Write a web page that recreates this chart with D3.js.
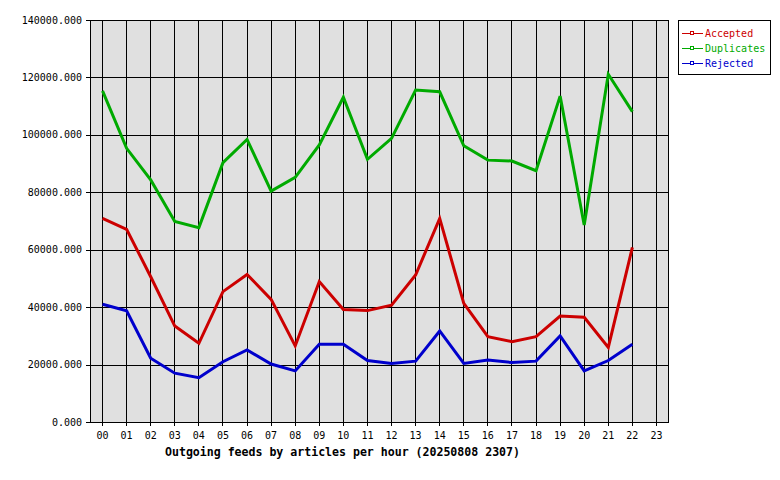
<!DOCTYPE html>
<html><head><meta charset="utf-8">
<script src="https://cdn.jsdelivr.net/npm/d3@7"></script>
<style>
html,body{margin:0;padding:0;background:#fff;}
text{font-family:"DejaVu Sans Mono",monospace;}
</style></head>
<body><div id="chart"></div>
<script>
const hours = ["00","01","02","03","04","05","06","07","08","09","10","11","12","13","14","15","16","17","18","19","20","21","22","23"];
const accepted   = [70900,67100,50600,33400,27400,45400,51400,42700,26500,48900,39200,38800,40700,51200,70900,41300,29700,28000,29700,36900,36500,26000,60800];
const duplicates = [115300,95300,84300,69800,67700,90300,98400,80400,85200,96500,113100,91500,98800,115600,115000,96200,91200,90900,87500,113500,68600,121100,108100];
const rejected   = [41000,38700,22200,17000,15400,21000,25100,20200,17800,27100,27100,21400,20400,21200,31700,20400,21600,20700,21200,30000,17800,21400,27100];
const yTicks = [0,20000,40000,60000,80000,100000,120000,140000];
const seriesNames = ["Accepted","Duplicates","Rejected"];
const seriesColors = ["#cc0000","#00aa00","#0000cc"];
const title = "Outgoing feeds by articles per hour (20250808 2307)";

const W=780,H=480;
const L=90,R=668,T=20,B=422;
const svg=d3.select("#chart").append("svg").attr("width",W).attr("height",H);

const x=d3.scaleBand().domain(hours).range([L,R]);
const y=d3.scaleLinear().domain([0,140000]).range([B,T]);

svg.append("rect").attr("x",L).attr("y",T).attr("width",R-L).attr("height",B-T).attr("fill","#e0e0e0");

const grid=svg.append("g").attr("shape-rendering","crispEdges").attr("stroke","#000").attr("stroke-width",1);
grid.selectAll("line.h").data(yTicks).enter().append("line")
  .attr("x1",L-4).attr("x2",R).attr("y1",d=>Math.round(y(d))+0.5).attr("y2",d=>Math.round(y(d))+0.5);
grid.selectAll("line.v").data(hours).enter().append("line")
  .attr("x1",d=>Math.round(x(d)+x.bandwidth()/2)+0.5).attr("x2",d=>Math.round(x(d)+x.bandwidth()/2)+0.5)
  .attr("y1",T).attr("y2",B+4);
grid.append("rect").attr("x",L+0.5).attr("y",T+0.5).attr("width",R-L).attr("height",B-T).attr("fill","none");

svg.append("g").selectAll("text").data(yTicks).enter().append("text")
  .attr("x",82).attr("y",d=>y(d)+3.5).attr("text-anchor","end").attr("font-size","10px").attr("fill","#000")
  .text(d=>d3.format(".3f")(d));

svg.append("g").selectAll("text").data(hours).enter().append("text")
  .attr("x",d=>x(d)+x.bandwidth()/2+0.5).attr("y",438.5).attr("text-anchor","middle").attr("font-size","10px").attr("fill","#000")
  .text(d=>d);

svg.append("text").attr("x",165).attr("y",455.5).attr("font-size","11.6px").attr("font-weight","bold").attr("fill","#000")
  .attr("textLength",355).attr("lengthAdjust","spacing").text(title);

const line=d3.line().x((d,i)=>x(hours[i])+x.bandwidth()/2+0.5).y(d=>y(d));
[accepted,duplicates,rejected].forEach((s,k)=>{
  svg.append("path").datum(s).attr("d",line).attr("fill","none").attr("stroke",seriesColors[k])
    .attr("stroke-width",3).attr("stroke-linejoin","miter");
});

const lg=svg.append("g");
lg.append("rect").attr("x",678.5).attr("y",20.5).attr("width",92).attr("height",54).attr("fill","#fff").attr("stroke","#000").attr("shape-rendering","crispEdges");
seriesNames.forEach((n,k)=>{
  const cy=33+k*15;
  lg.append("line").attr("x1",682).attr("x2",703).attr("y1",cy+0.5).attr("y2",cy+0.5).attr("stroke",seriesColors[k]).attr("shape-rendering","crispEdges");
  lg.append("rect").attr("x",690.5).attr("y",cy-1.5).attr("width",3).attr("height",3).attr("fill","#fff").attr("stroke",seriesColors[k]).attr("shape-rendering","crispEdges");
  lg.append("text").attr("x",705).attr("y",cy+4).attr("font-size","10px").attr("fill",seriesColors[k]).text(n);
});
</script></body></html>
